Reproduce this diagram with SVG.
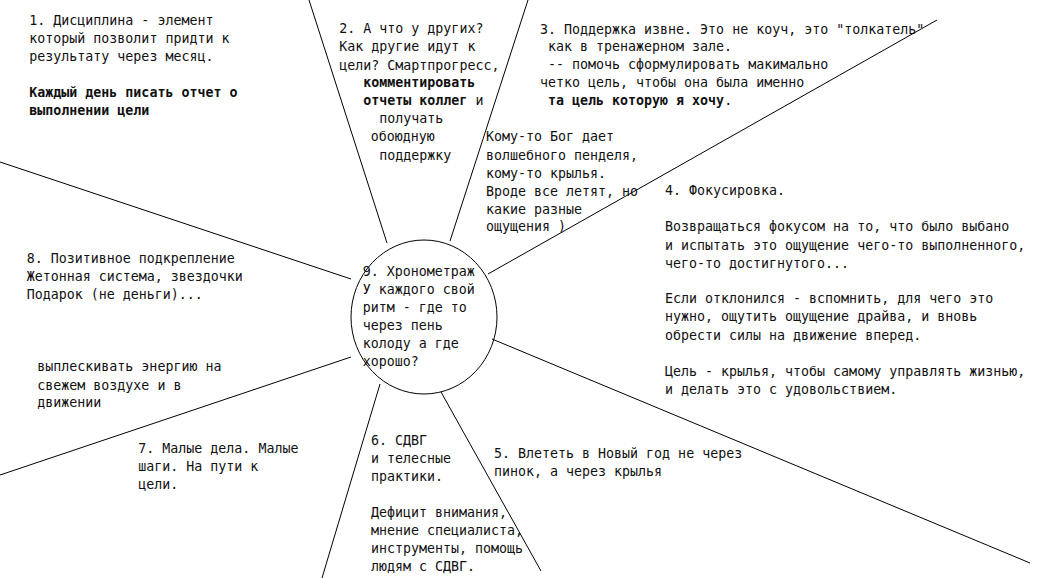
<svg xmlns="http://www.w3.org/2000/svg" width="1050" height="578" viewBox="0 0 1050 578">
<style>
text{font-family:"DejaVu Sans Mono","Liberation Mono",monospace;font-size:13.3px;fill:#111;}
.b{font-weight:bold;}
.ln{stroke:#000;stroke-width:1;fill:none;}
</style>
<rect width="1050" height="578" fill="#fff"/>
<g id="connectors">
<line class="ln" x1="309" y1="0" x2="387" y2="243"/>
<line class="ln" x1="528" y1="0" x2="450" y2="241"/>
<line class="ln" x1="937" y1="20" x2="488" y2="274"/>
<line class="ln" x1="492" y1="339" x2="1030" y2="563"/>
<line class="ln" x1="441" y1="392" x2="541" y2="571"/>
<line class="ln" x1="380" y1="384" x2="322" y2="578"/>
<line class="ln" x1="351" y1="357" x2="0" y2="475"/>
<line class="ln" x1="0" y1="162" x2="351" y2="279"/>
</g>
<g id="node9">
<ellipse class="ln" cx="424" cy="317" rx="73" ry="77" fill="#fff"/>
<text x="362.7" y="275.5">9. Хронометраж</text>
<text x="362.7" y="294">У каждого свой</text>
<text x="362.7" y="312">ритм - где то</text>
<text x="362.7" y="330">через пень</text>
<text x="362.7" y="348">колоду а где</text>
<text x="362.7" y="366">хорошо?</text>
</g>
<g id="node1">
<text x="29.3" y="24.5">1. Дисциплина - элемент</text>
<text x="29.3" y="42.5">который позволит придти к</text>
<text x="29.3" y="60.5">результату через месяц.</text>
<text x="29.3" y="96.5" class="b">Каждый день писать отчет о</text>
<text x="29.3" y="114.5" class="b">выполнении цели</text>
</g>
<g id="node2">
<text x="339.3" y="33">2. А что у других?</text>
<text x="339.3" y="51">Как другие идут к</text>
<text x="339.3" y="69.5">цели? Смартпрогресс,</text>
<text x="363.3" y="87" class="b">комментировать</text>
<text x="363.3" y="105"><tspan class="b">отчеты коллег</tspan> и</text>
<text x="379.3" y="123">получать</text>
<text x="370.7" y="141">обоюдную</text>
<text x="379.3" y="159.5">поддержку</text>
</g>
<g id="node3">
<text x="540" y="34">3. Поддержка извне. Это не коуч, это "толкатель"</text>
<text x="548" y="51">как в тренажерном зале.</text>
<text x="548" y="69">-- помочь сформулировать макимально</text>
<text x="540" y="87">четко цель, чтобы она была именно</text>
<text x="548" y="105"><tspan class="b">та цель которую я хочу</tspan>.</text>
</g>
<g id="note3">
<text x="486" y="141">Кому-то Бог дает</text>
<text x="486" y="159.5">волшебного пенделя,</text>
<text x="486" y="177.5">кому-то крылья.</text>
<text x="486" y="195.5">Вроде все летят, но</text>
<text x="486" y="213.5">какие разные</text>
<text x="486" y="231">ощущения )</text>
</g>
<g id="node4">
<text x="665" y="195">4. Фокусировка.</text>
<text x="665" y="231">Возвращаться фокусом на то, что было выбано</text>
<text x="665" y="249.5">и испытать это ощущение чего-то выполненного,</text>
<text x="665" y="267.5">чего-то достигнутого...</text>
<text x="665" y="303">Если отклонился - вспомнить, для чего это</text>
<text x="665" y="321">нужно, ощутить ощущение драйва, и вновь</text>
<text x="665" y="339.5">обрести силы на движение вперед.</text>
<text x="665" y="375.5">Цель - крылья, чтобы самому управлять жизнью,</text>
<text x="665" y="393.5">и делать это с удовольствием.</text>
</g>
<g id="node5">
<text x="494" y="458">5. Влететь в Новый год не через</text>
<text x="494" y="476">пинок, а через крылья</text>
</g>
<g id="node6">
<text x="371" y="444.5">6. СДВГ</text>
<text x="371" y="462.5">и телесные</text>
<text x="371" y="480.5">практики.</text>
<text x="371" y="516.5">Дефицит внимания,</text>
<text x="371" y="534.5">мнение специалиста,</text>
<text x="371" y="552.5">инструменты, помощь</text>
<text x="371" y="570.5">людям с СДВГ.</text>
</g>
<g id="node7">
<text x="138.3" y="453">7. Малые дела. Малые</text>
<text x="138.3" y="471">шаги. На пути к</text>
<text x="138.3" y="489">цели.</text>
</g>
<g id="node8">
<text x="26.7" y="263">8. Позитивное подкрепление</text>
<text x="26.7" y="281">Жетонная система, звездочки</text>
<text x="26.7" y="299">Подарок (не деньги)...</text>
<text x="37.3" y="371">выплескивать энергию на</text>
<text x="37.3" y="389.5">свежем воздухе и в</text>
<text x="37.3" y="407">движении</text>
</g>
</svg>
